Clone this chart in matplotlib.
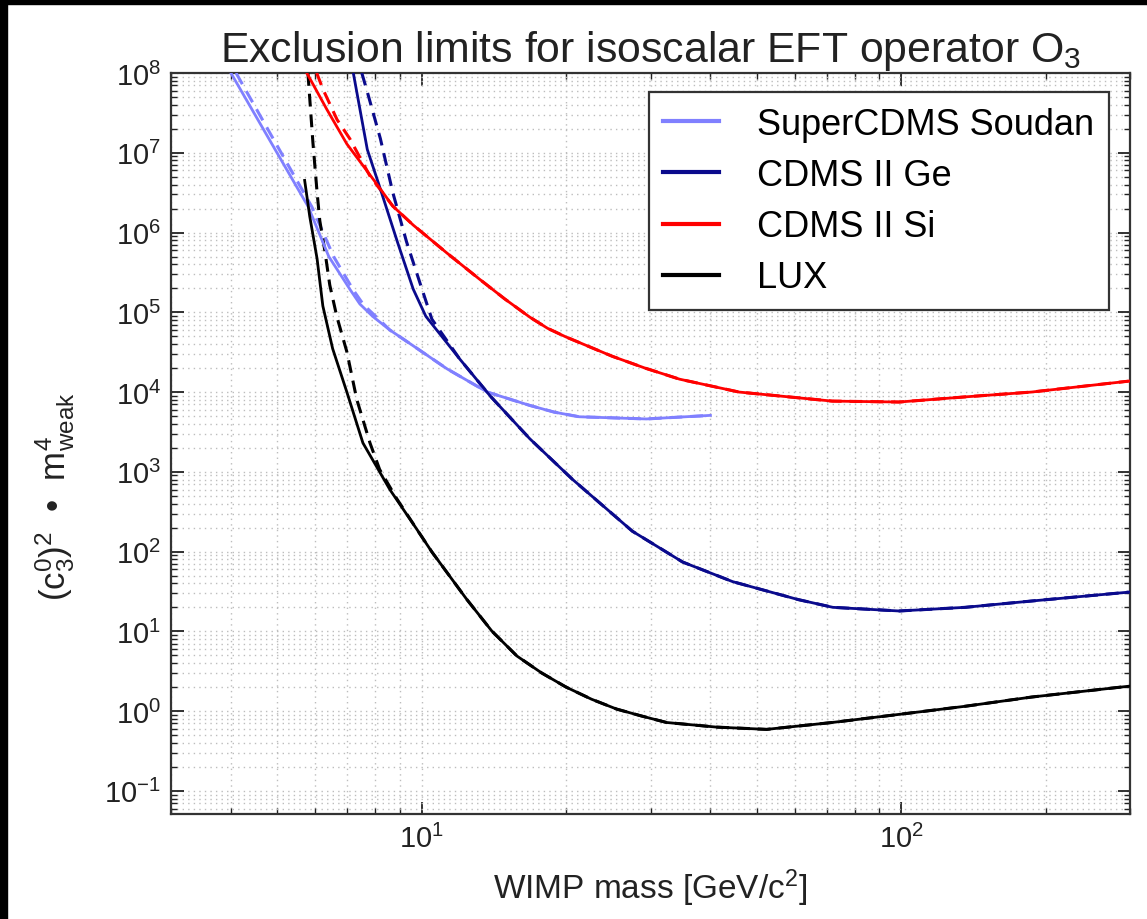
import matplotlib
matplotlib.use("Agg")
import matplotlib.pyplot as plt
from matplotlib.patches import Rectangle
from matplotlib.ticker import LogLocator, NullFormatter, FixedLocator

plt.rcParams['font.family'] = ['Liberation Sans', 'DejaVu Sans']
plt.rcParams['mathtext.fontset'] = 'custom'
plt.rcParams['mathtext.rm'] = 'Liberation Sans'
plt.rcParams['mathtext.it'] = 'Liberation Sans:italic'
plt.rcParams['mathtext.bf'] = 'Liberation Sans:bold'

# ---------------- data ----------------
series_names = ["SuperCDMS Soudan", "CDMS II Ge", "CDMS II Si", "LUX"]
series_colors = ["#8080ff", "#0a0a8c", "#ff0000", "#000000"]

# SuperCDMS Soudan
scdms_mass = [4.0, 4.8, 5.8, 6.4, 7.1, 7.43, 7.9, 8.58, 9.6, 11.3, 13.7, 16.8, 18.9, 21.3, 29.4, 40.0]
scdms_lim = [1.0e8, 1.5e7, 2.1e6, 5.0e5, 1.9e5, 1.27e5, 8.9e4, 6.0e4, 3.8e4, 1.95e4, 1.0e4, 6.8e3, 5.6e3, 4.9e3, 4.6e3, 5.1e3]
scdms_mass_d = [4.1, 4.9, 5.9, 6.55, 7.2, 7.57, 8.05, 8.58, 9.6, 11.3, 13.7, 16.8, 18.9, 21.3, 29.4, 40.0]
scdms_lim_d = [1.0e8, 1.5e7, 2.1e6, 5.0e5, 1.9e5, 1.23e5, 8.7e4, 6.0e4, 3.8e4, 1.95e4, 1.0e4, 6.8e3, 5.6e3, 4.9e3, 4.6e3, 5.1e3]

# CDMS II Ge
ge_mass = [7.2, 7.7, 8.2, 8.9, 9.6, 10.2, 12.0, 13.9, 16.8, 20.6, 27.5, 35.0, 44.5, 61.0, 72.0, 99.0, 136.0, 187.0, 298.0]
ge_lim = [1.0e8, 1.1e7, 3.5e6, 7.6e5, 1.95e5, 8.9e4, 2.6e4, 8.9e3, 2.6e3, 8.1e2, 1.8e2, 74.0, 42.0, 25.0, 20.0, 18.0, 20.0, 24.0, 31.0]
ge_mass_d = [7.5, 7.7, 8.2, 8.7, 9.3, 9.9, 10.5, 12.0, 13.9, 16.8, 20.6, 27.5, 35.0, 44.5, 61.0, 72.0, 99.0, 136.0, 187.0, 298.0]
ge_lim_d = [1.0e8, 5.8e7, 1.5e7, 3.2e6, 7.6e5, 2.4e5, 8.2e4, 2.6e4, 8.9e3, 2.6e3, 8.1e2, 1.8e2, 74.0, 42.0, 25.0, 20.0, 18.0, 20.0, 24.0, 31.0]

# CDMS II Si
si_mass = [5.76, 6.34, 6.98, 8.0, 8.7, 9.6, 11.3, 13.2, 14.9, 16.8, 18.3, 20.0, 25.0, 29.2, 34.5, 45.9, 71.8, 99.0, 136.0, 187.0, 298.0]
si_lim = [1.0e8, 3.5e7, 1.29e7, 4.3e6, 2.15e6, 1.24e6, 5.5e5, 2.6e5, 1.47e5, 8.7e4, 6.3e4, 4.9e4, 2.8e4, 2.0e4, 1.45e4, 1.0e4, 7.7e3, 7.5e3, 8.7e3, 1.0e4, 1.37e4]
si_mass_d = [6.04, 6.22, 6.66, 7.08, 7.8, 8.7, 9.6, 11.3, 13.2, 14.9, 16.8, 18.3, 20.0, 25.0, 29.2, 34.5, 45.9, 71.8, 99.0, 136.0, 187.0, 298.0]
si_lim_d = [1.0e8, 6.3e7, 2.6e7, 1.5e7, 5.1e6, 2.15e6, 1.24e6, 5.5e5, 2.6e5, 1.47e5, 8.7e4, 6.3e4, 4.9e4, 2.8e4, 2.0e4, 1.45e4, 1.0e4, 7.7e3, 7.5e3, 8.7e3, 1.0e4, 1.37e4]

# LUX
lux_mass = [5.70, 5.84, 6.05, 6.22, 6.52, 6.98, 7.54, 8.58, 9.77, 10.5, 12.4, 14.0, 15.8, 17.8, 20.0, 22.6, 25.5, 28.7, 32.4, 41.2, 52.4, 71.8, 99.0, 136.0, 187.0, 298.0]
lux_lim = [4.5e6, 1.6e6, 4.7e5, 1.2e5, 3.5e4, 1.0e4, 2.3e3, 6.0e2, 1.9e2, 99.0, 25.4, 10.1, 4.9, 3.0, 2.0, 1.41, 1.06, 0.87, 0.72, 0.63, 0.59, 0.72, 0.91, 1.15, 1.5, 2.05]
lux_mass_d = [5.79, 5.93, 6.05, 6.13, 6.28, 6.43, 6.65, 6.98, 7.32, 7.8, 8.17, 8.87, 9.77, 10.5, 12.4, 14.0, 15.8, 17.8, 20.0, 22.6, 25.5, 28.7, 32.4, 41.2, 52.4, 71.8, 99.0, 136.0, 187.0, 298.0]
lux_lim_d = [1.0e8, 1.35e7, 3.2e6, 1.4e6, 5.9e5, 2.2e5, 8.9e4, 3.2e4, 8.1e3, 2.3e3, 1.07e3, 4.6e2, 1.9e2, 99.0, 25.4, 10.1, 4.9, 3.0, 2.0, 1.41, 1.06, 0.87, 0.72, 0.63, 0.59, 0.72, 0.91, 1.15, 1.5, 2.05]

solid = [(scdms_mass, scdms_lim), (ge_mass, ge_lim), (si_mass, si_lim), (lux_mass, lux_lim)]
dashed = [(scdms_mass_d, scdms_lim_d), (ge_mass_d, ge_lim_d), (si_mass_d, si_lim_d), (lux_mass_d, lux_lim_d)]

y_major_ticks = [1e-1, 1e0, 1e1, 1e2, 1e3, 1e4, 1e5, 1e6, 1e7, 1e8]
x_major_ticks = [10, 100]

title = "Exclusion limits for isoscalar EFT operator O$_3$"
xlabel = "WIMP mass [GeV/c$^2$]"
ylabel = "(c$_3^0$)$^2$  \u2022  m$_{\\mathrm{weak}}^4$"

# ---------------- figure ----------------
W, H = 1147, 920
fig = plt.figure(figsize=(W / 100, H / 100), dpi=100)
ax = fig.add_axes([171 / W, 1 - 815 / H, (1130 - 171) / W, (815 - 74) / H])

for (m, v), c in zip(dashed, series_colors):
    ln, = ax.plot(m, v, color=c, lw=2.2, zorder=3)
    ln.set_dashes((4.2, 2.6))
for (m, v), c, name in zip(solid, series_colors, series_names):
    ax.plot(m, v, color=c, lw=2.0, label=name, zorder=4)

ax.set_xscale('log')
ax.set_yscale('log')
ax.set_xlim(3, 300)
ax.set_ylim(10 ** -1.29, 1e8)

ax.yaxis.set_major_locator(FixedLocator(y_major_ticks))
ax.yaxis.set_minor_locator(LogLocator(base=10, subs=range(2, 10), numticks=200))
ax.yaxis.set_minor_formatter(NullFormatter())
ax.xaxis.set_major_locator(FixedLocator(x_major_ticks))
ax.xaxis.set_minor_locator(LogLocator(base=10, subs=range(2, 10), numticks=200))
ax.xaxis.set_minor_formatter(NullFormatter())

ax.tick_params(which='both', direction='in', top=True, right=True, colors='#222222')
ax.tick_params(which='major', length=9, width=1.3, labelsize=21, pad=7)
ax.tick_params(which='minor', length=4, width=1.0)
ax.grid(True, which='both', linestyle=(0, (1, 3)), color='#bdbdbd', lw=1.0)
for s in ax.spines.values():
    s.set_linewidth(1.6)
    s.set_color('#333333')

ax.set_title(title, fontsize=30.8, pad=9, color='#222222')
ax.set_xlabel(xlabel, fontsize=24, labelpad=10, color='#222222')
fig.text(55 / W, 1 - 497 / H, ylabel, rotation=90, ha='center', va='center',
         fontsize=25, color='#222222')

leg = ax.legend(loc='upper right', bbox_to_anchor=(0.978, 0.974), borderaxespad=0,
                fontsize=26, frameon=True, fancybox=False, framealpha=1,
                handlelength=1.55, handletextpad=1.05, labelspacing=0.45, borderpad=0.4)
leg.get_frame().set_edgecolor('#333333')
leg.get_frame().set_linewidth(1.6)
for line in leg.get_lines():
    line.set_linewidth(3.0)

# black border strips at top and left of the image
fig.add_artist(Rectangle((0, 1 - 5 / H), 1, 5 / H, transform=fig.transFigure, color='black', zorder=10))
fig.add_artist(Rectangle((0, 0), 7 / W, 1, transform=fig.transFigure, color='black', zorder=10))

fig.savefig('out.png', dpi=100)
